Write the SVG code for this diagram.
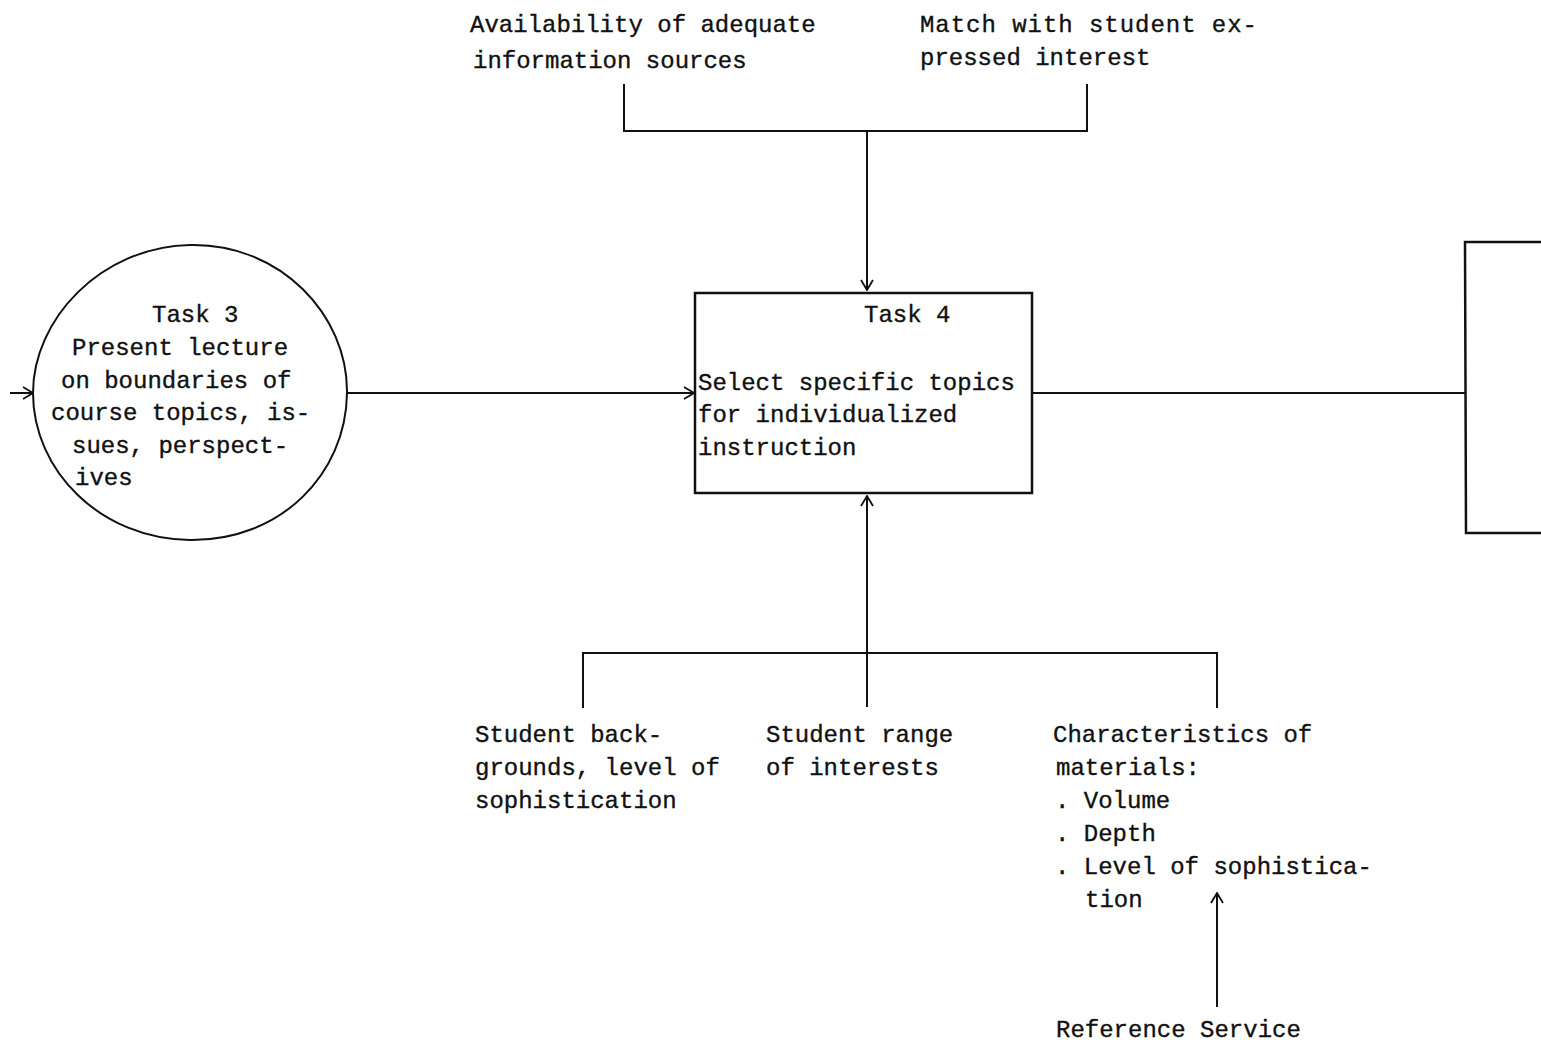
<svg xmlns="http://www.w3.org/2000/svg" width="1541" height="1047" viewBox="0 0 1541 1047">
  <style>
    text { font-family: "Liberation Mono", "Courier New", monospace; font-size: 24px; fill: #111; stroke: #111; stroke-width: 0.35; }
    .ln { stroke: #111; stroke-width: 2; fill: none; }
    .bx { stroke: #111; stroke-width: 2.5; fill: none; }
  </style>
  <defs>
    <marker id="open" viewBox="0 0 12 14" refX="11" refY="7" markerWidth="12" markerHeight="14" markerUnits="userSpaceOnUse" orient="auto">
      <path d="M1,1 L11,7 L1,13" fill="none" stroke="#111" stroke-width="1.8"/>
    </marker>
  </defs>
  <rect width="1541" height="1047" fill="#fff"/>

  <!-- connectors -->
  <g id="connectors">
    <!-- top bracket feeding Task 4 -->
    <path class="ln" d="M624,84 L624,131 L1087,131 L1087,84"/>
    <path class="ln" d="M867,131 L867,290" marker-end="url(#open)"/>
    <!-- incoming flow to Task 3 -->
    <path class="ln" d="M10,393 L33,393" marker-end="url(#open)"/>
    <!-- Task 3 to Task 4 -->
    <path class="ln" d="M347,393 L694,393" marker-end="url(#open)"/>
    <!-- Task 4 to next task -->
    <path class="ln" d="M1032,393 L1465,393"/>
    <!-- bottom bracket feeding Task 4 -->
    <path class="ln" d="M583,708 L583,653 L1217,653 L1217,708"/>
    <path class="ln" d="M867,707 L867,496" marker-end="url(#open)"/>
    <!-- Reference Service into materials -->
    <path class="ln" d="M1217,1007 L1217,893" marker-end="url(#open)"/>
  </g>

  <!-- Task 3 -->
  <g id="task3">
    <path class="ln" d="M190,245 C280,243 348,315 347,393 C346,475 280,541 190,540 C100,539 33,470 33,393 C33,320 100,247 190,245 Z"/>
    <text x="152" y="322">Task 3</text>
    <text x="72" y="355">Present lecture</text>
    <text x="61" y="388">on boundaries of</text>
    <text x="51" y="420">course topics, is-</text>
    <text x="72" y="453">sues, perspect-</text>
    <text x="75" y="485">ives</text>
  </g>

  <!-- Task 4 -->
  <g id="task4">
    <rect class="bx" x="695" y="293" width="337" height="200"/>
    <text x="864" y="322">Task 4</text>
    <text x="698" y="390">Select specific topics</text>
    <text x="698" y="422">for individualized</text>
    <text x="698" y="455">instruction</text>
  </g>

  <!-- next task, partly off the page -->
  <g id="task5">
    <path class="bx" d="M1541,242 L1465,242 L1466,533 L1541,533"/>
  </g>

  <!-- inputs -->
  <g id="in-sources">
    <text x="470" y="32">Availability of adequate</text>
    <text x="473" y="68">information sources</text>
  </g>
  <g id="in-interest">
    <text x="920" y="32" textLength="337">Match with student ex-</text>
    <text x="920" y="65">pressed interest</text>
  </g>
  <g id="in-backgrounds">
    <text x="475" y="742">Student back-</text>
    <text x="475" y="775">grounds, level of</text>
    <text x="475" y="808">sophistication</text>
  </g>
  <g id="in-range">
    <text x="766" y="742">Student range</text>
    <text x="766" y="775">of interests</text>
  </g>
  <g id="in-materials">
    <text x="1053" y="742">Characteristics of</text>
    <text x="1056" y="775">materials:</text>
    <text x="1055" y="808">. Volume</text>
    <text x="1055" y="841">. Depth</text>
    <text x="1055" y="874">. Level of sophistica-</text>
    <text x="1085" y="907">tion</text>
  </g>
  <g id="in-reference">
    <text x="1056" y="1037">Reference Service</text>
  </g>
</svg>
